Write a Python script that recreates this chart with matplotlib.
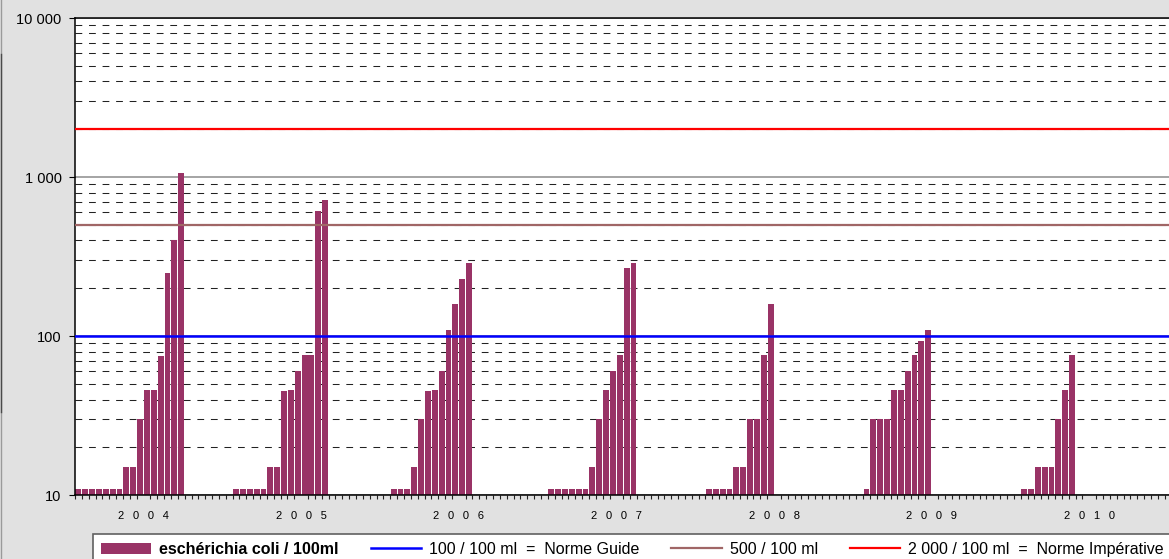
import numpy as np
import matplotlib
matplotlib.use('Agg')
import matplotlib.pyplot as plt
from matplotlib.ticker import FixedLocator, FixedFormatter, NullFormatter, LogLocator
from matplotlib.lines import Line2D

plt.rcParams['font.family'] = ['Liberation Sans', 'DejaVu Sans']

# ---------------- data ----------------
years = ['2004', '2005', '2006', '2007', '2008', '2009', '2010']
ecoli_2004 = [11, 11, 11, 11, 11, 11, 11, 15, 15, 30, 46, 46, 75, 250, 400, 1060]
ecoli_2005 = [11, 11, 11, 11, 11, 15, 15, 45, 46, 60, 76, 76, 610, 720]
ecoli_2006 = [11, 11, 11, 15, 30, 45, 46, 60, 110, 160, 230, 290]
ecoli_2007 = [11, 11, 11, 11, 11, 11, 15, 30, 46, 60, 76, 270, 290]
ecoli_2008 = [11, 11, 11, 11, 15, 15, 30, 30, 76, 160]
ecoli_2009 = [11, 30, 30, 30, 46, 46, 60, 76, 93, 110]
ecoli_2010 = [11, 11, 15, 15, 15, 30, 46, 76]
series = [ecoli_2004, ecoli_2005, ecoli_2006, ecoli_2007, ecoli_2008, ecoli_2009, ecoli_2010]

norm_guide = 100
norm_500 = 500
norm_imperative = 2000

y_ticks = [10, 100, 1000, 10000]
y_labels = ['10', '100', '1 000', '10 000']

label_bars = 'eschérichia coli / 100ml'
label_guide = '100 / 100 ml  =  Norme Guide'
label_500 = '500 / 100 ml'
label_imp = '2 000 / 100 ml  =  Norme Impérative'

# ---------------- layout ----------------
W, H = 1169, 559
SLOTS = 23          # category slots per year
px = 6.853          # pixel width of one slot
fig = plt.figure(figsize=(W / 100, H / 100), dpi=100, facecolor='#e1e1e1')
ax = fig.add_axes([75 / W, (H - 495.3) / H, SLOTS * len(years) * px / W, (495.3 - 18) / H])
ax.set_facecolor('white')
ax.set_yscale('log')

xs, vs = [], []
for k, vals in enumerate(series):
    xs.extend(k * SLOTS + np.arange(len(vals)))
    vs.extend(vals)
bars = ax.bar(xs, vs, width=0.86, color='#993366', edgecolor='none', zorder=2,
              label=label_bars)

l1 = ax.axhline(norm_guide, color='#0000ff', lw=1.8, zorder=3, label=label_guide)
l2 = ax.axhline(norm_500, color='#a06666', lw=1.6, zorder=3, label=label_500)
l3 = ax.axhline(norm_imperative, color='#ff0000', lw=1.6, zorder=3, label=label_imp)

ax.set_ylim(10, 10000)
ax.set_xlim(-0.5, SLOTS * len(years) - 0.5)

# y axis
ax.yaxis.set_major_locator(FixedLocator(y_ticks))
ax.yaxis.set_major_formatter(FixedFormatter(y_labels))
ax.yaxis.set_minor_locator(LogLocator(base=10, subs=np.arange(2, 10)))
ax.yaxis.set_minor_formatter(NullFormatter())
ax.tick_params(axis='y', which='major', length=4.3, width=0.8, pad=5.4,
               labelsize=10.5, colors='black')
ax.tick_params(axis='y', which='minor', length=0)
ax.set_axisbelow(True)
ax.grid(which='major', axis='y', color='#8c8c8c', lw=1.1)
ax.grid(which='minor', axis='y', color='#222222', lw=0.75, linestyle=(0, (6.5, 6.5)))

# x axis
ax.xaxis.set_minor_locator(FixedLocator(np.arange(0, SLOTS * len(years) + 1) - 0.5))
ax.xaxis.set_minor_formatter(NullFormatter())
ax.xaxis.set_major_locator(FixedLocator([k * SLOTS + 9.5 for k in range(len(years))]))
ax.xaxis.set_major_formatter(FixedFormatter(['\u2002 '.join(y) for y in years]))
ax.tick_params(axis='x', which='minor', length=3, width=0.8, direction='out', colors='#222222')
ax.tick_params(axis='x', which='major', length=0, pad=11.5, labelsize=8)

for s in ['left', 'bottom', 'top']:
    ax.spines[s].set_color('black')
    ax.spines[s].set_linewidth(1.1)
ax.spines['right'].set_visible(False)

# legend
leg = fig.legend(handles=[bars, l1, l2, l3],
                 labels=[label_bars, label_guide, label_500, label_imp],
                 loc='upper left', bbox_to_anchor=(93 / W, 1 - 534 / H),
                 bbox_transform=fig.transFigure, ncol=4, fontsize=11.5,
                 frameon=True, fancybox=False, edgecolor='#606060', facecolor='white',
                 framealpha=1, borderpad=0.5, handlelength=3.15, handleheight=0.7,
                 handletextpad=0.5, columnspacing=2.0, borderaxespad=0)
leg.get_frame().set_linewidth(1.2)
leg.get_texts()[0].set_fontweight('bold')

# left border of the chart area
fig.add_artist(Line2D([0.6 / W, 0.6 / W], [0, 1], transform=fig.transFigure,
                      color='#9a9a9a', lw=1.0))
fig.add_artist(Line2D([0.6 / W, 0.6 / W], [1 - 54 / H, 1 - 412 / H], transform=fig.transFigure,
                      color='#4a4a4a', lw=1.0))

fig.savefig('out.png', dpi=100, facecolor=fig.get_facecolor())
